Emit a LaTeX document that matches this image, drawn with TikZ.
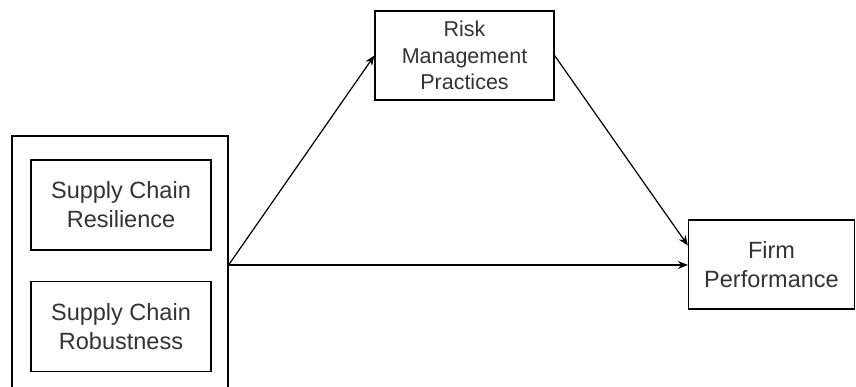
\documentclass[tikz,border=0pt]{standalone}
\usepackage{fontspec}
\setmainfont{Liberation Sans}
\usetikzlibrary{arrows.meta}
\usetikzlibrary{positioning}
\usetikzlibrary{calc}
\tikzset{->/.style = {-{Stealth[length=10pt, width=8pt]}}}
\tikzset{box/.style = {draw, line width=1.2pt, align=center, inner sep=0,
                       font=\fontsize{23.5}{29}\selectfont, text=mtext}}
\tikzset{smallbox/.style = {box, font=\fontsize{21.5}{26.5}\selectfont}}
\definecolor{mtext}{rgb}{0.2, 0.2, 0.2}

\begin{document}
\begin{tikzpicture}[x=1pt, y=-1pt, line width=1.2pt]
      \useasboundingbox (0, 0) rectangle (856, 387);
      \clip (0, 0) rectangle (856, 387);

      \node [box, minimum width=216, minimum height=266] (drivers) at (120, 269) {};

      \node [box, minimum width=180, minimum height=90] (resilience) at (121, 205) {Supply Chain\\Resilience};
      \node [box, minimum width=180, minimum height=90, below=30pt of resilience] (robustness) {Supply Chain\\Robustness};

      \node [smallbox, minimum width=179, minimum height=89] (risk) at (464.5, 55.5) {Risk\\Management\\Practices};
      \node [box, minimum width=166, minimum height=89] (firm) at (771.5, 264.5) {Firm\\Performance};

      \coordinate (split) at (drivers.east |- 0, 265);

      \draw [->] (split) -- (risk.west);
      \draw [->] (split) -- (split -| firm.west);
      \draw [->] (risk.east) -- ($(firm.west) + (0, -19)$);
\end{tikzpicture}
\end{document}
